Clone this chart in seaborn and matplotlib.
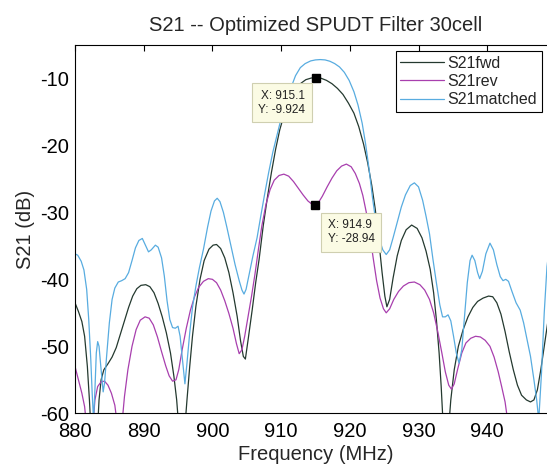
import numpy as np
import pandas as pd
import matplotlib
matplotlib.use('Agg')
import matplotlib.pyplot as plt
import seaborn as sns

# 讀圖估計的資料 (頻率 MHz, S21 dB)
fwd_freq = [880.0, 880.5, 881.0, 881.4, 881.8, 882.1, 882.3, 883.3, 883.5, 883.8, 884.2, 884.8,
            885.4, 886.0, 886.6, 887.2, 887.8, 888.4, 889.0, 889.6, 890.3, 890.9, 891.5, 892.1,
            892.7, 893.3, 893.9, 894.4, 894.8, 895.1, 896.0, 896.3, 896.7, 897.1, 897.6, 898.2,
            898.8, 899.5, 900.1, 900.6, 901.2, 901.8, 902.4, 903.0, 903.6, 904.1, 904.5, 904.8,
            905.2, 905.8, 906.3, 906.8, 907.4, 908.0, 908.6, 909.2, 909.8, 910.5, 911.2, 912.0,
            912.8, 913.6, 914.4, 915.1, 915.8, 916.6, 917.4, 918.2, 919.0, 919.8, 920.6, 921.3,
            922.0, 922.6, 923.2, 923.7, 924.2, 924.7, 925.1, 925.4, 925.8, 926.3, 926.9, 927.5,
            928.2, 929.0, 929.8, 930.5, 931.1, 931.7, 932.2, 932.6, 933.0, 933.3, 933.6, 934.4,
            934.7, 935.2, 935.8, 936.5, 937.2, 937.9, 938.6, 939.4, 940.2, 940.8, 941.4, 942.0,
            942.6, 943.2, 943.8, 944.4, 945.0, 945.7, 946.3, 946.8, 947.3, 947.8, 948.3, 948.8,
            949.5]
fwd_db = [-43.5, -44.8, -46.3, -48.5, -53.0, -58.0, -62.0, -62.0, -58.0, -55.0, -53.5, -52.6,
          -51.6, -50.2, -48.2, -46.2, -44.2, -42.5, -41.4, -40.9, -40.8, -41.1, -42.0, -43.6,
          -45.6, -48.0, -51.0, -54.5, -58.0, -62.0, -62.0, -58.0, -53.0, -48.5, -44.0, -40.0,
          -37.2, -35.5, -34.9, -34.8, -35.4, -36.8, -39.0, -42.0, -45.5, -49.2, -51.5, -51.9,
          -49.0, -44.5, -40.5, -37.0, -32.0, -27.8, -24.0, -20.6, -17.7, -15.2, -13.3, -11.8,
          -10.8, -10.2, -9.95, -9.924, -9.98, -10.3, -10.8, -11.5, -12.4, -13.7, -15.2, -17.2,
          -19.8, -22.6, -26.0, -29.5, -34.0, -39.0, -42.5, -44.1, -43.0, -39.8, -36.5, -34.2,
          -32.6, -31.9, -32.4, -33.8, -35.8, -38.5, -42.0, -46.0, -51.0, -56.0, -62.0, -62.0,
          -58.0, -53.5, -50.0, -47.5, -45.6, -44.2, -43.3, -42.8, -42.5, -42.6, -43.5, -45.2,
          -47.8, -50.8, -53.5, -55.8, -57.3, -58.0, -58.3, -58.0, -56.5, -53.5, -50.0, -46.5,
          -43.0]

rev_freq = [880.0, 880.5, 881.0, 881.4, 881.7, 882.6, 882.9, 883.3, 883.8, 884.3, 884.8, 885.3,
            885.8, 886.2, 886.8, 887.2, 887.7, 888.3, 888.9, 889.5, 890.2, 890.8, 891.4, 892.0,
            892.6, 893.2, 893.7, 894.2, 894.7, 895.1, 895.6, 896.2, 896.8, 897.4, 898.0, 898.7,
            899.4, 900.0, 900.6, 901.2, 901.8, 902.4, 903.0, 903.5, 903.9, 904.3, 904.7, 905.2,
            905.7, 906.2, 906.7, 907.2, 907.8, 908.4, 909.0, 909.7, 910.4, 911.1, 911.8, 912.5,
            913.2, 913.9, 914.5, 914.9, 915.4, 916.0, 916.7, 917.4, 918.1, 918.8, 919.5, 920.2,
            920.8, 921.4, 921.9, 922.4, 922.9, 923.4, 923.9, 924.4, 924.9, 925.3, 925.8, 926.4,
            927.1, 927.8, 928.6, 929.4, 930.2, 930.9, 931.6, 932.2, 932.8, 933.4, 933.9, 934.4,
            934.8, 935.2, 935.7, 936.3, 936.9, 937.6, 938.3, 939.0, 939.7, 940.4, 941.0, 941.6,
            942.1, 942.6, 943.1, 949.5]
rev_db = [-53.0, -55.0, -57.0, -59.0, -62.0, -62.0, -58.0, -56.0, -55.3, -55.2, -55.8, -57.0,
          -58.8, -62.0, -62.0, -57.5, -53.5, -50.0, -47.5, -46.1, -45.6, -45.8, -46.8, -48.6,
          -50.8, -52.9, -54.4, -55.2, -55.0, -53.5, -50.5, -47.3, -44.6, -42.6, -41.2, -40.3,
          -39.9, -40.0, -40.5, -41.6, -43.2, -45.1, -47.3, -49.6, -51.1, -50.5, -48.5, -45.5,
          -42.5, -39.2, -35.5, -32.0, -28.8, -26.6, -25.2, -24.5, -24.3, -24.6, -25.4, -26.4,
          -27.4, -28.3, -28.8, -28.94, -28.6, -27.6, -26.2, -24.9, -23.8, -23.1, -22.8, -23.2,
          -24.2, -25.7, -27.5, -30.0, -33.2, -36.8, -40.2, -42.8, -44.4, -45.0, -44.4, -43.0,
          -41.8, -41.0, -40.5, -40.4, -40.8, -41.6, -43.0, -45.0, -47.8, -51.0, -53.8, -55.8,
          -56.4, -55.6, -53.4, -51.0, -49.5, -48.8, -48.5, -48.6, -49.1, -50.0, -51.6, -53.8,
          -56.0, -58.3, -62.0, -62.0]

matched_freq = [880.0, 880.4, 880.9, 881.3, 881.7, 882.0, 882.3, 882.5, 882.7, 882.9, 883.1, 883.3,
                883.5, 883.8, 884.1, 884.3, 884.6, 885.0, 885.4, 885.8, 886.3, 886.8, 887.3, 887.8,
                888.3, 888.8, 889.3, 889.8, 890.3, 890.7, 891.1, 891.7, 892.1, 892.6, 893.0, 893.4,
                893.8, 894.2, 894.6, 895.0, 895.3, 895.7, 896.0, 896.3, 896.7, 897.1, 897.6, 898.1,
                898.7, 899.3, 899.8, 900.3, 900.7, 901.1, 901.6, 902.1, 902.7, 903.3, 903.9, 904.3,
                904.6, 904.9, 905.4, 905.9, 906.5, 907.0, 907.6, 908.2, 908.8, 909.4, 910.0, 910.7,
                911.4, 912.1, 912.8, 913.5, 914.3, 915.0, 915.7, 916.4, 917.1, 917.8, 918.5, 919.2,
                919.9, 920.6, 921.2, 921.8, 922.3, 922.8, 923.3, 923.8, 924.3, 924.8, 925.3, 925.8,
                926.3, 926.9, 927.5, 928.1, 928.8, 929.4, 930.0, 930.6, 931.1, 931.6, 932.1, 932.6,
                933.1, 933.5, 933.9, 934.3, 934.7, 935.1, 935.5, 935.9, 936.3, 936.7, 937.1, 937.5,
                937.8, 938.2, 938.6, 938.9, 939.3, 939.8, 940.4, 940.9, 941.4, 941.9, 942.3, 942.7,
                943.1, 943.6, 944.2, 944.8, 945.3, 945.8, 946.3, 946.8, 947.2, 947.5, 947.9, 948.3,
                948.7, 949.2, 949.8]
matched_db = [-36.2, -36.4, -37.3, -38.6, -41.5, -46.0, -52.0, -57.0, -61.0, -56.5, -51.0, -49.3,
              -50.0, -53.5, -56.8, -55.5, -51.5, -46.5, -43.0, -41.3, -40.4, -40.2, -39.9, -39.0,
              -37.2, -35.3, -34.2, -33.9, -35.0, -35.9, -35.6, -34.9, -35.2, -36.8, -39.5, -43.2,
              -46.0, -47.2, -47.3, -47.0, -48.5, -52.5, -55.6, -52.5, -48.0, -44.2, -41.0, -38.3,
              -35.5, -32.2, -29.8, -28.3, -27.9, -28.4, -30.0, -32.2, -35.0, -37.8, -40.2, -41.6,
              -42.2, -41.5, -39.0, -36.5, -33.8, -30.8, -27.3, -24.0, -21.0, -18.5, -16.0, -13.6,
              -11.5, -9.6, -8.4, -7.8, -7.4, -7.25, -7.2, -7.25, -7.45, -7.8, -8.3, -9.1,
              -10.3, -12.0, -14.0, -16.7, -19.8, -23.5, -27.8, -31.5, -34.0, -35.6, -36.3, -35.6,
              -33.8, -31.5, -29.2, -27.4, -26.0, -25.6, -26.2, -28.2, -30.6, -33.2, -37.0, -40.5,
              -43.8, -45.6, -45.6, -45.3, -46.2, -48.5, -51.0, -52.5, -50.5, -45.5, -40.5, -37.2,
              -36.4, -37.2, -39.0, -39.9, -38.8, -36.2, -34.6, -35.6, -37.8, -39.6, -40.2, -40.0,
              -40.3, -41.8, -43.5, -44.6, -46.5, -49.0, -51.5, -55.0, -58.0, -61.0, -54.0, -45.0,
              -38.1, -34.0, -31.0]

series_names = ['S21fwd', 'S21rev', 'S21matched']
series_colors = ['#24392f', '#a83fae', '#58ace0']

# data tip 標記
tip_freq = [915.1, 914.9]
tip_db = [-9.924, -28.94]
tip_text = ['X: 915.1\nY: -9.924', 'X: 914.9\nY: -28.94']

df = pd.concat([
    pd.DataFrame({'freq': fwd_freq, 'db': fwd_db, 'trace': 'S21fwd'}),
    pd.DataFrame({'freq': rev_freq, 'db': rev_db, 'trace': 'S21rev'}),
    pd.DataFrame({'freq': matched_freq, 'db': matched_db, 'trace': 'S21matched'}),
])

sns.set_style('white')
plt.rcParams['font.family'] = ['Liberation Sans', 'DejaVu Sans']
plt.rcParams['axes.unicode_minus'] = False

fig = plt.figure(figsize=(5.47, 4.70), dpi=100)
ax = fig.add_axes([0.1371, 0.1206, 0.8792, 0.7840])

sns.lineplot(data=df, x='freq', y='db', hue='trace', hue_order=series_names,
             palette=series_colors, estimator=None, sort=False, linewidth=0.9, ax=ax)

# data tips
ax.plot(tip_freq, tip_db, 's', color='black', markersize=5.5, zorder=5)
tip_style = dict(boxstyle='square,pad=0.55', fc='#fbfbe4', ec='#cfcfb0', lw=0.8)
ax.annotate(tip_text[0], xy=(tip_freq[0], tip_db[0]), xytext=(-11, -12),
            textcoords='offset pixels', ha='right', va='top', fontsize=8.5,
            color='#222222', bbox=tip_style, zorder=6)
ax.annotate(tip_text[1], xy=(tip_freq[1], tip_db[1]), xytext=(13, -14),
            textcoords='offset pixels', ha='left', va='top', fontsize=8.5,
            color='#222222', bbox=tip_style, zorder=6)

ax.set_xlim(880, 950)
ax.set_ylim(-60, -5)
ax.set_xticks(np.arange(880, 950, 10))
ax.set_yticks(np.arange(-60, 0, 10))
ax.tick_params(direction='in', length=4, width=0.8, labelsize=14.5, pad=4,
               top=True, right=True, colors='black')
ax.tick_params(axis='x', pad=6)
for s in ax.spines.values():
    s.set_color('black')
    s.set_linewidth(0.8)

ax.set_title('S21 -- Optimized SPUDT Filter 30cell', fontsize=14.5, pad=10)
ax.set_xlabel('Frequency (MHz)', fontsize=14.5, labelpad=3)
ax.set_ylabel('S21 (dB)', fontsize=14.5, labelpad=4)

ax.legend(loc='upper right', bbox_to_anchor=(542 / 547, 1 - 51 / 470),
          bbox_transform=fig.transFigure, fontsize=11.5, handlelength=2.7,
          handletextpad=0.25, borderpad=0.3, labelspacing=0.2, fancybox=False,
          framealpha=1, edgecolor='black', borderaxespad=0)
ax.get_legend().get_frame().set_linewidth(0.8)

fig.savefig('out.png', dpi=100)
